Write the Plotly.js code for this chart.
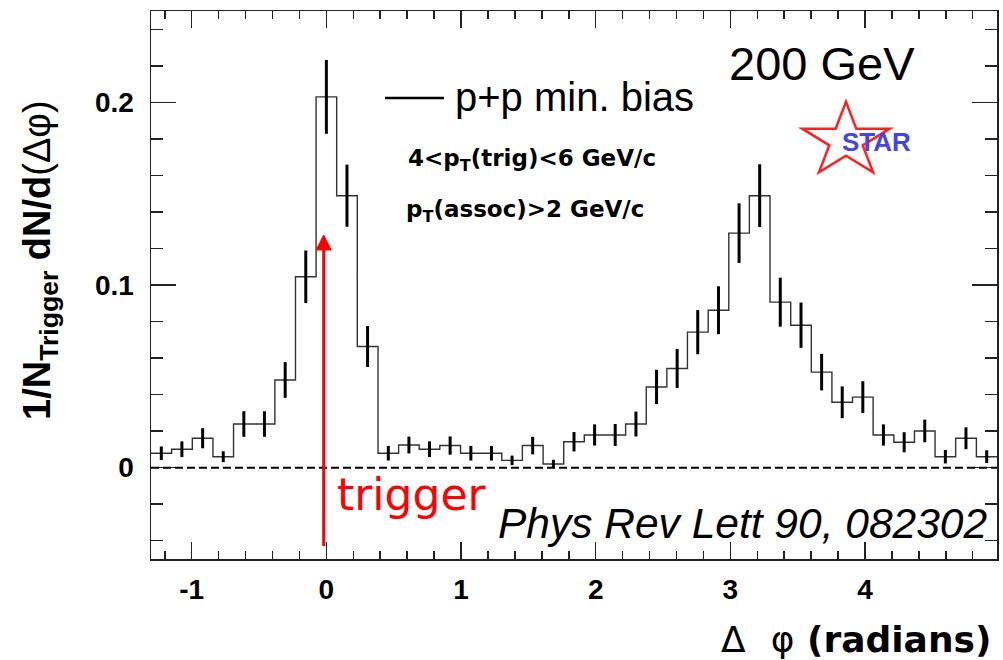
<!DOCTYPE html>
<html>
<head>
<meta charset="utf-8">
<script src="https://cdn.plot.ly/plotly-3.0.1.min.js"></script>
<style>
  html, body { margin: 0; padding: 0; background: #fff; }
  #plot { width: 1003px; height: 660px; }
</style>
</head>
<body>
<div id="plot"></div>
<script>
// Azimuthal correlation, p+p minimum bias at 200 GeV (41 bins over 2π)
const binCenters = [
  -1.226, -1.073, -0.919, -0.766, -0.613, -0.460, -0.306, -0.153, 0.000, 0.153,
   0.306,  0.460,  0.613,  0.766,  0.919,  1.073,  1.226,  1.379, 1.532, 1.686,
   1.839,  1.992,  2.145,  2.299,  2.452,  2.605,  2.758,  2.912, 3.065, 3.218,
   3.371,  3.525,  3.678,  3.831,  3.984,  4.137,  4.291,  4.444, 4.597, 4.750,
   4.904
];
const yieldPP = [
  0.0079, 0.0101, 0.0161, 0.0060, 0.0239, 0.0239, 0.0480, 0.1045, 0.2030, 0.1489,
  0.0663, 0.0079, 0.0124, 0.0101, 0.0121, 0.0079, 0.0079, 0.0040, 0.0121, 0.0020,
  0.0142, 0.0179, 0.0179, 0.0239, 0.0442, 0.0543, 0.0742, 0.0862, 0.1284, 0.1489,
  0.0906, 0.0780, 0.0523, 0.0358, 0.0386, 0.0179, 0.0139, 0.0201, 0.0060, 0.0161,
  0.0060
];
const yieldErr = [
  0.0037, 0.0043, 0.0055, 0.0030, 0.0070, 0.0070, 0.0098, 0.0144, 0.0202, 0.0170,
  0.0112, 0.0040, 0.0046, 0.0043, 0.0050, 0.0040, 0.0040, 0.0026, 0.0048, 0.0023,
  0.0053, 0.0058, 0.0060, 0.0068, 0.0094, 0.0107, 0.0121, 0.0131, 0.0163, 0.0172,
  0.0134, 0.0124, 0.0100, 0.0087, 0.0087, 0.0058, 0.0055, 0.0062, 0.0037, 0.0060,
  0.0035
];
const xTickVals = [-1, 0, 1, 2, 3, 4];
const xTickText = ['-1', '0', '1', '2', '3', '4'];
const yTickVals = [0, 0.1, 0.2];
const yTickText = ['0', '0.1', '0.2'];

// histogram outline: left bin edges plus the closing right edge
const binWidth = binCenters[1] - binCenters[0];
const stepX = binCenters.map(c => c - binWidth / 2).concat([binCenters[binCenters.length - 1] + binWidth / 2]);
const stepY = yieldPP.concat([yieldPP[yieldPP.length - 1]]);

const xRange = [stepX[0], stepX[stepX.length - 1]];
const yRange = [-0.05, 0.25];

// plot-area geometry in pixels, used to place text and decorations
const W = 1003, H = 660;
const M = { l: 151, r: 6, t: 11, b: 101 };
const pw = W - M.l - M.r, ph = H - M.t - M.b;
const px = p => (p - M.l) / pw;
const py = p => (H - M.b - p) / ph;

const FONT = 'Liberation Sans, Arial, Helvetica, sans-serif';
const WIDE = 'DejaVu Sans, Verdana, sans-serif';

const traces = [
  {
    type: 'scatter', mode: 'lines', name: 'p+p min. bias',
    x: stepX, y: stepY,
    line: { shape: 'hv', color: '#333', width: 1.4 },
    hoverinfo: 'skip', showlegend: false
  },
  {
    type: 'scatter', mode: 'markers', name: 'p+p min. bias',
    x: binCenters, y: yieldPP,
    marker: { size: 1, color: 'rgba(0,0,0,0)' },
    error_y: { type: 'data', array: yieldErr, visible: true, color: '#000', thickness: 3, width: 0 },
    showlegend: false
  }
];

// five-pointed outline star of the logo, slightly flattened
function starPath(cx, cy, sx, sy) {
  let d = '';
  for (let i = 0; i < 10; i++) {
    const a = -Math.PI / 2 + i * Math.PI / 5;
    const r = (i % 2 === 0) ? 1 : 0.382;
    const X = px(cx + sx * r * Math.cos(a));
    const Y = py(cy + sy * r * Math.sin(a));
    d += (i === 0 ? 'M' : 'L') + X.toFixed(4) + ',' + Y.toFixed(4);
  }
  return d + 'Z';
}

// red trigger arrow: shaft plus a filled triangular head
const arrowX = 323.7, arrowTail = 546, arrowTip = 235, headLen = 15, headHalf = 7.5;
const arrowHead = 'M' + px(arrowX).toFixed(4) + ',' + py(arrowTip).toFixed(4) +
  'L' + px(arrowX - headHalf).toFixed(4) + ',' + py(arrowTip + headLen).toFixed(4) +
  'L' + px(arrowX + headHalf).toFixed(4) + ',' + py(arrowTip + headLen).toFixed(4) + 'Z';

const axisCommon = {
  showline: true, linecolor: '#222', linewidth: 1.5, mirror: 'allticks',
  ticks: 'inside', tickcolor: '#222', tickwidth: 1.5,
  showgrid: false, zeroline: false, fixedrange: true,
  tickfont: { family: FONT, size: 28, color: '#000', weight: 'bold' }
};

const layout = {
  width: W, height: H,
  margin: M,
  paper_bgcolor: '#fff', plot_bgcolor: '#fff',
  showlegend: false,
  xaxis: Object.assign({}, axisCommon, {
    range: xRange, tickvals: xTickVals, ticktext: xTickText, ticklen: 17, ticklabelstandoff: 5,
    minor: { dtick: 0.2, tick0: 0, ticks: 'inside', ticklen: 8, tickcolor: '#222', tickwidth: 1.5 }
  }),
  yaxis: Object.assign({}, axisCommon, {
    range: yRange, tickvals: yTickVals, ticktext: yTickText, ticklen: 25, ticklabelstandoff: 10,
    minor: { dtick: 0.02, tick0: 0, ticks: 'inside', ticklen: 12, tickcolor: '#222', tickwidth: 1.5 }
  }),
  shapes: [
    { type: 'line', xref: 'paper', yref: 'y', x0: 0, x1: 1, y0: 0, y1: 0,
      line: { color: '#000', width: 2, dash: '8px,4px' } },
    { type: 'line', xref: 'paper', yref: 'paper', x0: px(385), x1: px(444), y0: py(98), y1: py(98),
      line: { color: '#000', width: 2.5 } },
    { type: 'line', xref: 'paper', yref: 'paper', x0: px(arrowX), x1: px(arrowX),
      y0: py(arrowTail), y1: py(arrowTip + headLen - 1), line: { color: '#ff0000', width: 3 } },
    { type: 'path', xref: 'paper', yref: 'paper', path: arrowHead,
      line: { color: '#ff0000', width: 1 }, fillcolor: '#ff0000' },
    { type: 'path', xref: 'paper', yref: 'paper', path: starPath(846, 140.7, 46, 39),
      line: { color: '#ff2020', width: 2.5 }, fillcolor: 'rgba(0,0,0,0)' }
  ],
  annotations: [
    { xref: 'paper', yref: 'paper', x: px(40), y: py(260), xanchor: 'center', yanchor: 'middle',
      textangle: -90, showarrow: false,
      text: '1/N<sub>Trigger</sub> dN/d<span style="font-weight:normal">(Δφ)</span>',
      font: { family: FONT, size: 38, color: '#000', weight: 'bold' } },
    { xref: 'paper', yref: 'paper', x: px(993), y: py(639), xanchor: 'right', yanchor: 'middle',
      showarrow: false,
      text: '<span style="font-weight:normal">Δ</span>  <span style="font-weight:normal">φ</span> (radians)',
      font: { family: WIDE, size: 36, color: '#000', weight: 'bold' } },
    { xref: 'paper', yref: 'paper', x: px(727), y: py(63), xanchor: 'left', yanchor: 'middle',
      showarrow: false, text: '200 GeV',
      font: { family: FONT, size: 47, color: '#000' } },
    { xref: 'paper', yref: 'paper', x: px(453), y: py(97), xanchor: 'left', yanchor: 'middle',
      showarrow: false, text: 'p+p min. bias',
      font: { family: FONT, size: 40, color: '#000' } },
    { xref: 'paper', yref: 'paper', x: px(406), y: py(160), xanchor: 'left', yanchor: 'middle',
      showarrow: false, text: '4&lt;p<sub>T</sub>(trig)&lt;6 GeV/c',
      font: { family: WIDE, size: 23, color: '#000', weight: 'bold' } },
    { xref: 'paper', yref: 'paper', x: px(404), y: py(211), xanchor: 'left', yanchor: 'middle',
      showarrow: false, text: 'p<sub>T</sub>(assoc)&gt;2 GeV/c',
      font: { family: WIDE, size: 23, color: '#000', weight: 'bold' } },
    { xref: 'paper', yref: 'paper', x: px(335), y: py(494), xanchor: 'left', yanchor: 'middle',
      showarrow: false, text: 'trigger',
      font: { family: WIDE, size: 44, color: '#ff0000' } },
    { xref: 'paper', yref: 'paper', x: px(989), y: py(523), xanchor: 'right', yanchor: 'middle',
      showarrow: false, text: '<i>Phys Rev Lett 90, 082302</i>',
      font: { family: FONT, size: 42.5, color: '#000' } },
    { xref: 'paper', yref: 'paper', x: px(876), y: py(142), xanchor: 'center', yanchor: 'middle',
      showarrow: false, text: 'STAR',
      font: { family: FONT, size: 26, color: '#4646dc', weight: 'bold' } }
  ]
};

Plotly.newPlot('plot', traces, layout, { staticPlot: true, displayModeBar: false });
</script>
</body>
</html>
